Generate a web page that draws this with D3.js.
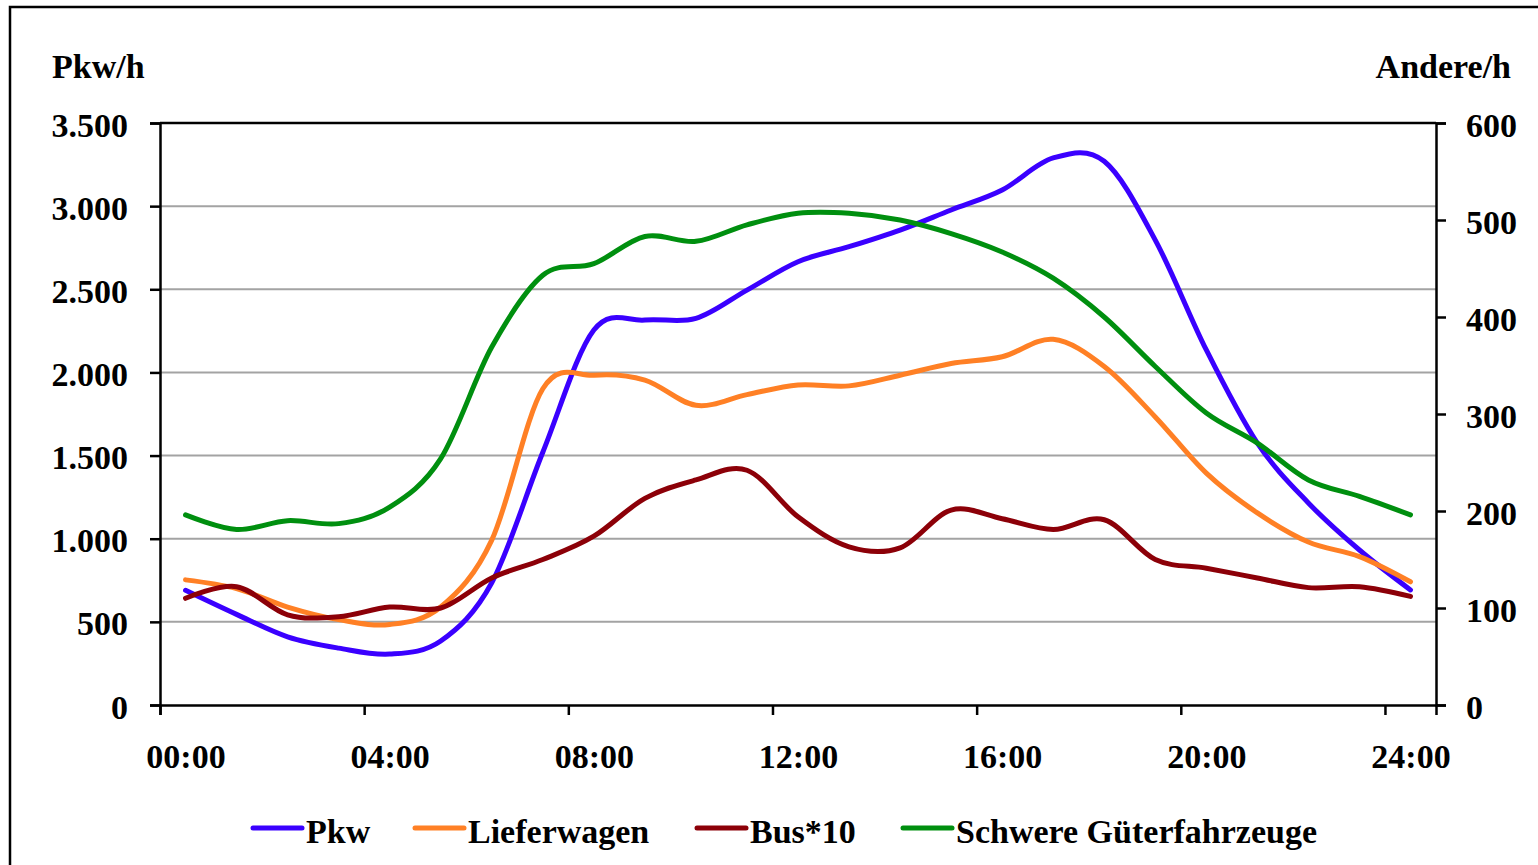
<!DOCTYPE html>
<html>
<head>
<meta charset="utf-8">
<script src="https://cdn.jsdelivr.net/npm/d3@7"></script>
<style>
  html, body { margin: 0; padding: 0; background: #fff; }
  svg text { font-family: "Liberation Serif", "Times New Roman", serif; font-weight: bold; fill: #000; }
</style>
</head>
<body>
<div id="wrapper"></div>
<script>
// stunden 0..24
const hours = d3.range(0, 25);
const hourLabels = ["00:00", "04:00", "08:00", "12:00", "16:00", "20:00", "24:00"];
const leftTicks = [0, 500, 1000, 1500, 2000, 2500, 3000, 3500];
const rightTicks = [0, 100, 200, 300, 400, 500, 600];

// Pkw/h (linke achse)
const pkw = [690, 545, 410, 342, 306, 385, 735, 1520, 2255, 2315, 2325, 2495, 2666, 2756, 2856,
  2977, 3097, 3290, 3270, 2796, 2135, 1575, 1215, 932, 692];
// andere/h (rechte achse)
const lieferwagen = [129, 120, 101, 88, 83, 101, 170, 326, 340, 335, 309, 320, 330, 329, 340,
  352, 359, 377, 349, 297, 239, 198, 168, 153, 127];
const bus10 = [110, 122, 93, 91, 101, 100, 131, 150, 174, 213, 232, 242, 194, 163, 162,
  201, 192, 181, 191, 150, 141, 131, 121, 122, 112];
const schwere = [196, 181, 190, 187, 204, 254, 369, 443, 455, 483, 478, 495, 507, 507, 500,
  486, 467, 440, 400, 349, 301, 270, 232, 215, 196];

const seriesNames = ["Pkw", "Lieferwagen", "Bus*10", "Schwere Güterfahrzeuge"];
const seriesColors = ["#3a00ff", "#ff8025", "#8c0008", "#008f0f"];

const fontSize = "34px";

const dimensions = {
  width: 1538,
  height: 865,
  margin: { top: 123, right: 102, bottom: 160, left: 160 }
};
dimensions.boundedWidth = dimensions.width - dimensions.margin.left - dimensions.margin.right;
dimensions.boundedHeight = dimensions.height - dimensions.margin.top - dimensions.margin.bottom;

const wrapper = d3.select("#wrapper")
  .append("svg")
  .attr("width", dimensions.width)
  .attr("height", dimensions.height);

// rahmen
wrapper.append("rect")
  .attr("x", 10).attr("y", 7)
  .attr("width", 1560).attr("height", 880)
  .attr("fill", "none").attr("stroke", "#000").attr("stroke-width", 2.5);

const bounds = wrapper.append("g")
  .attr("transform", `translate(${dimensions.margin.left}, ${dimensions.margin.top})`);

// scales
const xScale = d3.scaleLinear().domain([-0.5, 24.5]).range([0, dimensions.boundedWidth]);
const yLeft = d3.scaleLinear().domain([0, 3500]).range([dimensions.boundedHeight, 0]);
const yRight = d3.scaleLinear().domain([0, 600]).range([dimensions.boundedHeight, 0]);

const de = d3.formatLocale({ decimal: ",", thousands: ".", grouping: [3], currency: ["", " €"] });
const fmt = de.format(",");

// gitter
bounds.selectAll(".grid")
  .data(leftTicks.slice(1, -1))
  .enter().append("line")
  .attr("class", "grid")
  .attr("x1", 0).attr("x2", dimensions.boundedWidth)
  .attr("y1", d => yLeft(d)).attr("y2", d => yLeft(d))
  .attr("stroke", "#a3a3a3").attr("stroke-width", 2);

// linien
const lineData = [pkw, lieferwagen, bus10, schwere];
const yFor = [yLeft, yRight, yRight, yRight];
lineData.forEach((values, i) => {
  const line = d3.line()
    .x((d, j) => xScale(hours[j]))
    .y(d => yFor[i](d))
    .curve(d3.curveCardinal.tension(0));
  bounds.append("path")
    .datum(values)
    .attr("d", line)
    .attr("fill", "none")
    .attr("stroke", seriesColors[i])
    .attr("stroke-width", 5)
    .attr("stroke-linecap", "round")
    .attr("stroke-linejoin", "round");
});

// plot-rahmen oben
bounds.append("line")
  .attr("x1", 0).attr("x2", dimensions.boundedWidth)
  .attr("y1", 0).attr("y2", 0)
  .attr("stroke", "#000").attr("stroke-width", 2.5);

// achsen
const leftAxis = bounds.append("g")
  .call(d3.axisLeft(yLeft).tickValues(leftTicks).tickSize(10).tickPadding(22).tickFormat(fmt));
const rightAxis = bounds.append("g")
  .attr("transform", `translate(${dimensions.boundedWidth}, 0)`)
  .call(d3.axisRight(yRight).tickValues(rightTicks).tickSize(10).tickPadding(20));
const bottomAxis = bounds.append("g")
  .attr("transform", `translate(0, ${dimensions.boundedHeight})`)
  .call(d3.axisBottom(xScale).tickValues(d3.range(-0.5, 24, 4)).tickSize(10).tickFormat(""));
const bottomLabels = bounds.append("g")
  .attr("transform", `translate(0, ${dimensions.boundedHeight})`)
  .call(d3.axisBottom(xScale).tickValues(d3.range(0, 25, 4)).tickSize(0).tickFormat((d, i) => hourLabels[i]));

[leftAxis, rightAxis, bottomAxis, bottomLabels].forEach(a => {
  a.select(".domain").attr("stroke", "#000").attr("stroke-width", 2.5);
  a.selectAll(".tick line").attr("stroke", "#000").attr("stroke-width", 2.5);
  a.selectAll("text").style("font-size", fontSize).attr("dy", null);
});
leftAxis.selectAll(".tick text").attr("y", 13);
rightAxis.selectAll(".tick text").attr("y", 13);
bottomLabels.select(".domain").remove();
bottomLabels.selectAll(".tick text").attr("y", 63);

// achsentitel
wrapper.append("text").attr("x", 52).attr("y", 78).style("font-size", fontSize).text("Pkw/h");
wrapper.append("text").attr("x", 1511).attr("y", 78).attr("text-anchor", "end")
  .style("font-size", fontSize).text("Andere/h");

// legende
const legendX = [253, 415, 697, 903];
const legend = wrapper.selectAll(".legend")
  .data(seriesNames)
  .enter().append("g")
  .attr("class", "legend")
  .attr("transform", (d, i) => `translate(${legendX[i]}, 828)`);
legend.append("line")
  .attr("x1", 0).attr("x2", 49).attr("y1", 0).attr("y2", 0)
  .attr("stroke", (d, i) => seriesColors[i])
  .attr("stroke-width", 5).attr("stroke-linecap", "round");
legend.append("text")
  .attr("x", 53).attr("y", 15)
  .style("font-size", fontSize)
  .text(d => d);
</script>
</body>
</html>
